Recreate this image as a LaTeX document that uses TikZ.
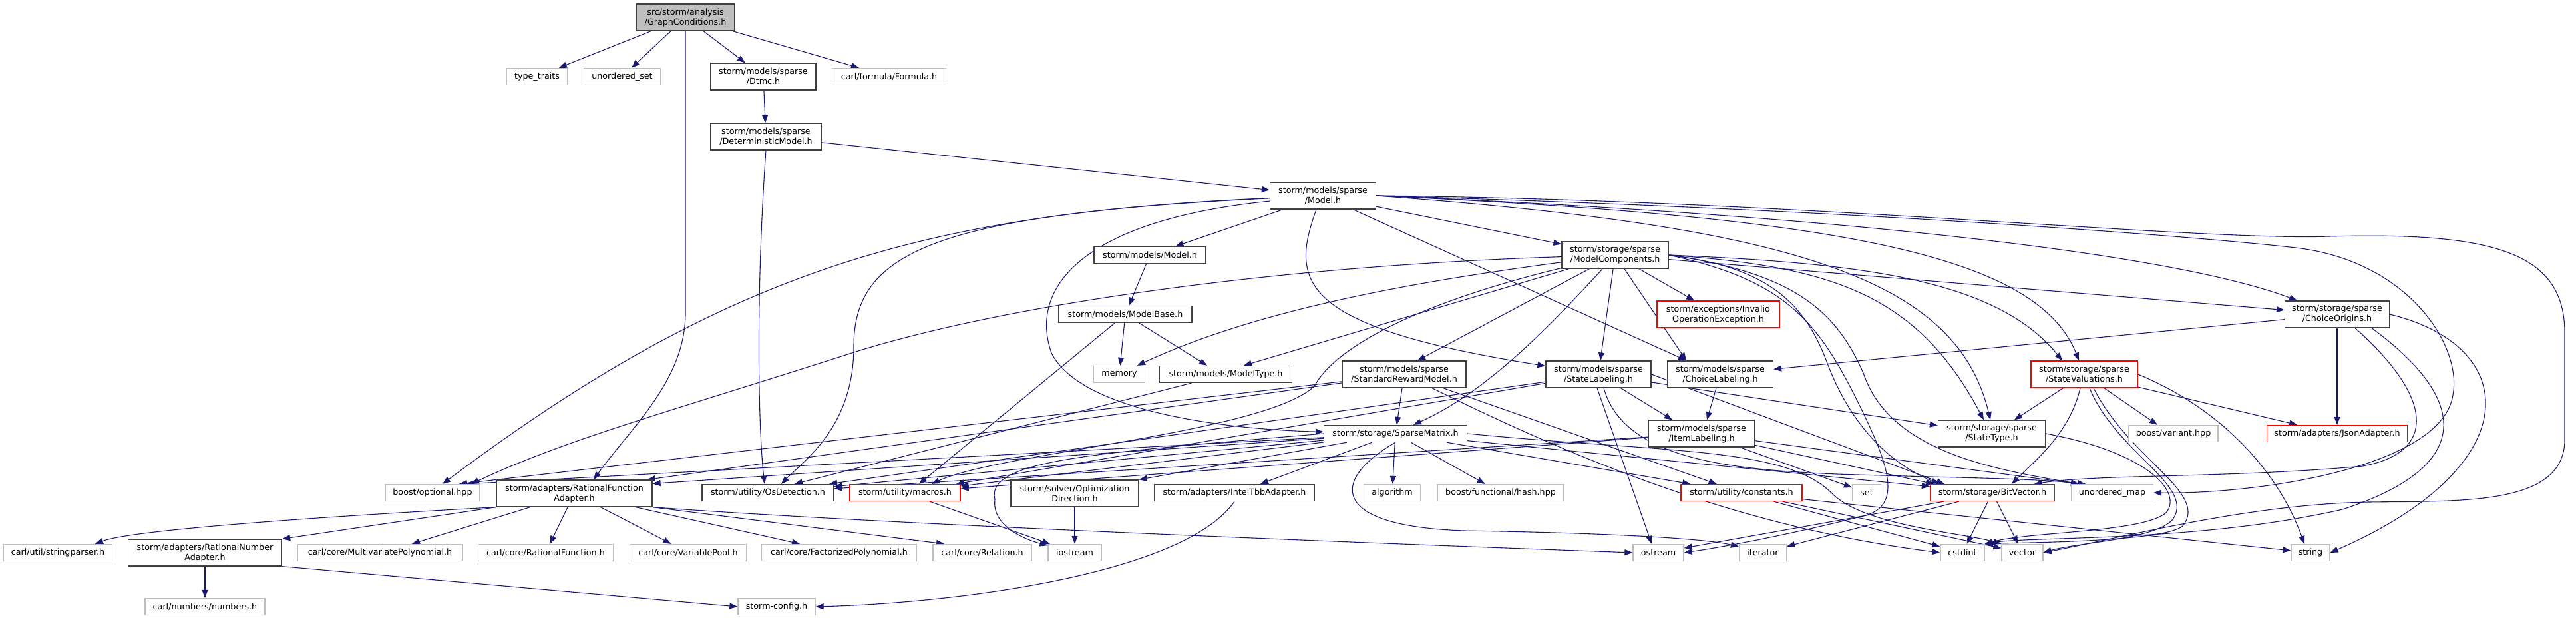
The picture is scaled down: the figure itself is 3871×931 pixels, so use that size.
\documentclass[tikz,border=0pt]{standalone}
\usepackage{fontspec}
\setmainfont{DejaVu Sans}
\usetikzlibrary{arrows.meta,backgrounds}
\definecolor{edgecol}{HTML}{191970}
\definecolor{extcol}{HTML}{BFBFBF}
\definecolor{doccol}{HTML}{404040}
\definecolor{trncol}{HTML}{FF0000}
\definecolor{rootfill}{HTML}{BFBFBF}
\tikzset{
  nbox/.style={rectangle, inner sep=0pt, fill=white, line width=1.3pt, align=center, font={\fontsize{12.7}{15}\selectfont}},
  doc/.style={nbox, draw=doccol},
  ext/.style={nbox, draw=extcol},
  trn/.style={nbox, draw=trncol},
  rootn/.style={nbox, draw=doccol, fill=rootfill},
  one/.style={minimum height=25pt},
  two/.style={minimum height=40pt},
  dep/.style={draw=edgecol, line width=1.1pt, -{Triangle[length=12pt,width=9pt]}},
}
\begin{document}
\begin{tikzpicture}[x=1pt,y=-1pt]
\useasboundingbox (0,0) rectangle (3871,931);
% nodes
\node[rootn,two,minimum width=147pt] (root) at (1030,26) {src/storm/analysis\\/GraphConditions.h};
\node[ext,one,minimum width=92pt] (tt) at (807,115) {type\_traits};
\node[ext,one,minimum width=115pt] (us) at (935,115) {unordered\_set};
\node[doc,two,minimum width=158pt] (dtmc) at (1147,115) {storm/models/sparse\\/Dtmc.h};
\node[ext,one,minimum width=171pt] (formula) at (1336,115) {carl/formula/Formula.h};
\node[doc,two,minimum width=167pt] (dm) at (1151,205) {storm/models/sparse\\/DeterministicModel.h};
\node[doc,two,minimum width=159pt] (smodel) at (1988,294) {storm/models/sparse\\/Model.h};
\node[doc,one,minimum width=168pt] (mmodel) at (1728,383) {storm/models/Model.h};
\node[doc,two,minimum width=160pt] (mc) at (2427,383) {storm/storage/sparse\\/ModelComponents.h};
\node[doc,one,minimum width=200pt] (mbase) at (1691,472) {storm/models/ModelBase.h};
\node[trn,two,minimum width=184pt] (inv) at (2582,472) {storm/exceptions/Invalid\\OperationException.h};
\node[doc,two,minimum width=157pt] (co) at (3512,472) {storm/storage/sparse\\/ChoiceOrigins.h};
\node[ext,one,minimum width=77pt] (memory) at (1682,562) {memory};
\node[doc,one,minimum width=199pt] (mtype) at (1842,562) {storm/models/ModelType.h};
\node[doc,two,minimum width=186pt] (srm) at (2110,562) {storm/models/sparse\\/StandardRewardModel.h};
\node[doc,two,minimum width=158pt] (sl) at (2402,562) {storm/models/sparse\\/StateLabeling.h};
\node[doc,two,minimum width=159pt] (cl) at (2585,562) {storm/models/sparse\\/ChoiceLabeling.h};
\node[trn,two,minimum width=160pt] (sv) at (3132,562) {storm/storage/sparse\\/StateValuations.h};
\node[doc,one,minimum width=215pt] (sm) at (2097,651) {storm/storage/SparseMatrix.h};
\node[doc,two,minimum width=159pt] (il) at (2557,651) {storm/models/sparse\\/ItemLabeling.h};
\node[doc,two,minimum width=161pt] (st) at (2993,651) {storm/storage/sparse\\/StateType.h};
\node[ext,one,minimum width=134pt] (variant) at (3266,651) {boost/variant.hpp};
\node[trn,one,minimum width=211pt] (json) at (3512,651) {storm/adapters/JsonAdapter.h};
\node[ext,one,minimum width=142pt] (bopt) at (650,740) {boost/optional.hpp};
\node[doc,two,minimum width=234pt] (rfa) at (863,741) {storm/adapters/RationalFunction\\Adapter.h};
\node[doc,one,minimum width=198pt] (osd) at (1154,740) {storm/utility/OsDetection.h};
\node[trn,one,minimum width=166pt] (macros) at (1360,740) {storm/utility/macros.h};
\node[doc,two,minimum width=192pt] (optdir) at (1615,741) {storm/solver/Optimization\\Direction.h};
\node[doc,one,minimum width=240pt] (tbb) at (1855,740) {storm/adapters/IntelTbbAdapter.h};
\node[ext,one,minimum width=85pt] (algo) at (2092,740) {algorithm};
\node[ext,one,minimum width=190pt] (hash) at (2255,740) {boost/functional/hash.hpp};
\node[trn,one,minimum width=182pt] (cnst) at (2617,740) {storm/utility/constants.h};
\node[ext,one,minimum width=43pt] (setn) at (2805,740) {set};
\node[trn,one,minimum width=187pt] (bitv) at (2994,740) {storm/storage/BitVector.h};
\node[ext,one,minimum width=123pt] (umap) at (3174,740) {unordered\_map};
\node[ext,one,minimum width=163pt] (sp) at (87,830) {carl/util/stringparser.h};
\node[doc,two,minimum width=231pt] (rna) at (308,830) {storm/adapters/RationalNumber\\Adapter.h};
\node[ext,one,minimum width=248pt] (mvp) at (571,830) {carl/core/MultivariatePolynomial.h};
\node[ext,one,minimum width=203pt] (rf) at (820,830) {carl/core/RationalFunction.h};
\node[ext,one,minimum width=175pt] (vp) at (1034,830) {carl/core/VariablePool.h};
\node[ext,one,minimum width=233pt] (fp) at (1261,830) {carl/core/FactorizedPolynomial.h};
\node[ext,one,minimum width=148pt] (rel) at (1476,830) {carl/core/Relation.h};
\node[ext,one,minimum width=80pt] (iostr) at (1615,830) {iostream};
\node[ext,one,minimum width=76pt] (ostr) at (2492,830) {ostream};
\node[ext,one,minimum width=71pt] (iter) at (2649,830) {iterator};
\node[ext,one,minimum width=66pt] (cstd) at (2949,830) {cstdint};
\node[ext,one,minimum width=62pt] (vec) at (3039,830) {vector};
\node[ext,one,minimum width=58pt] (str) at (3472,830) {string};
\node[ext,one,minimum width=180pt] (numbers) at (308,911) {carl/numbers/numbers.h};
\node[ext,one,minimum width=116pt] (config) at (1167,911) {storm-config.h};
% edges
\begin{pgfonlayer}{background}
\fill[white] (0,0) rectangle (3871,931);
\draw[dep] (root) -- (tt);
\draw[dep] (root) -- (us);
\draw[dep] (root) -- (dtmc);
\draw[dep] (root) -- (formula);
\draw[dep] (root.south) -- (1030,470) .. controls (1030,570) and (950,640) .. ([xshift=29pt]rfa.north);
\draw[dep] (dtmc) -- (dm);
\draw[dep] (dm) -- (smodel);
\draw[dep] (dm.south) .. controls (1135,450) and (1140,650) .. ([xshift=-5pt]osd.north);
% sparse Model.h
\draw[dep] (smodel) .. controls (1400,320) and (1100,400) .. ([xshift=15pt]bopt.north);
\draw[dep] (smodel) .. controls (1400,322) and (1283,380) .. (1283,520) .. controls (1283,640) and (1210,690) .. ([xshift=20pt]osd.north);
\draw[dep] (smodel) .. controls (1630,330) and (1545,430) .. (1580,530) .. controls (1625,620) and (1850,645) .. (sm);
\draw[dep] (smodel) -- (mmodel);
\draw[dep] ([xshift=-10pt]smodel.south) .. controls (1940,420) and (1945,490) .. (sl);
\draw[dep] (smodel) -- ([xshift=-51pt]cl.north);
\draw[dep] (smodel) -- (mc);
\draw[dep] (smodel.east) .. controls (2700,300) and (3300,362) .. (3500,355) .. controls (3750,348) and (3854,380) .. (3854,500) -- (3854,660) .. controls (3854,760) and (3700,752) .. (3560,754) .. controls (3380,757) and (3200,805) .. (vec.east);
\draw[dep] (smodel.east) .. controls (2800,315) and (3300,355) .. (3450,372) .. controls (3620,392) and (3700,520) .. (3686,593) .. controls (3670,700) and (3400,742) .. (umap.east);
\draw[dep] (smodel.east) .. controls (2700,320) and (3250,375) .. ([xshift=-60pt]co.north);
\draw[dep] (smodel.east) .. controls (2750,325) and (3060,380) .. ([xshift=-8pt]sv.north);
\draw[dep] (smodel.east) .. controls (2700,340) and (2940,420) .. ([xshift=-2pt]st.north);
% models/Model.h, ModelBase
\draw[dep] (mmodel) -- (mbase);
\draw[dep] (mbase) -- (memory);
\draw[dep] (mbase) -- ([xshift=-28pt]mtype.north);
\draw[dep] (mbase) -- ([xshift=21pt]macros.north);
\draw[dep] (mtype) -- ([xshift=40pt]osd.north);
% ModelComponents
\draw[dep] (mc) -- (inv);
\draw[dep] (mc) .. controls (2150,420) and (1900,460) .. ([xshift=27pt]memory.north);
\draw[dep] (mc) -- ([xshift=27pt]mtype.north);
\draw[dep] (mc) .. controls (1900,400) and (1500,460) .. (1280,530) .. controls (1000,620) and (850,660) .. ([xshift=58pt]bopt.north);
\draw[dep] (mc) .. controls (2150,450) and (2010,515) .. (1975,580) .. controls (1900,650) and (1500,680) .. ([xshift=40pt]macros.north);
\draw[dep] (mc) -- ([xshift=20pt]srm.north);
\draw[dep] (mc) .. controls (2320,500) and (2230,590) .. ([xshift=27pt]sm.north);
\draw[dep] (mc) -- (sl);
\draw[dep] (mc) -- ([xshift=-51pt]cl.north);
\draw[dep] (mc) -- (co);
\draw[dep] (mc.east) .. controls (2650,400) and (2710,450) .. (2745,543) .. controls (2785,650) and (2850,700) .. ([xshift=-80pt]bitv.north);
\draw[dep] (mc.east) .. controls (2700,410) and (2760,470) .. (2800,560) .. controls (2840,680) and (3000,705) .. ([xshift=-50pt]umap.north);
\draw[dep] (mc.east) .. controls (2750,400) and (2880,440) .. ([xshift=-12pt]st.north);
\draw[dep] (mc.east) .. controls (2800,395) and (3000,420) .. ([xshift=-33pt]sv.north);
\draw[dep] (mc.east) .. controls (2680,420) and (2730,480) .. (2790,600) .. controls (2840,700) and (2860,760) .. (2800,775) .. controls (2700,800) and (2600,820) .. (ostr.east);
% ChoiceOrigins
\draw[dep] (co) -- (cl);
\draw[dep] (co) -- (json);
\draw[dep] ([xshift=27pt]co.south) .. controls (3660,600) and (3660,680) .. (3550,700) .. controls (3350,718) and (3150,712) .. ([xshift=63pt]bitv.north);
\draw[dep] ([xshift=52pt]co.south) .. controls (3710,600) and (3720,700) .. (3520,765) .. controls (3300,815) and (3050,805) .. (cstd.north east);
\draw[dep] (co.east) .. controls (3790,520) and (3800,700) .. (str.east);
% StateValuations
\draw[dep] (sv) -- ([xshift=34pt]st.north);
\draw[dep] (sv) -- ([xshift=-24pt]variant.north);
\draw[dep] (sv) -- ([xshift=-60pt]json.north);
\draw[dep] ([xshift=-6pt]sv.south) .. controls (3110,650) and (3060,690) .. ([xshift=29pt]bitv.north);
\draw[dep] (sv.east) .. controls (3330,610) and (3420,700) .. ([xshift=-9pt]str.north);
\draw[dep] ([xshift=8pt]sv.south) .. controls (3180,680) and (3300,730) .. (3265,780) .. controls (3240,810) and (3120,815) .. (vec.east);
\draw[dep] ([xshift=14pt]sv.south) .. controls (3200,690) and (3320,740) .. (3280,790) .. controls (3250,815) and (3020,815) .. (cstd.north east);
\draw[dep] (st.east) .. controls (3230,680) and (3280,740) .. (3255,770) .. controls (3220,800) and (3050,798) .. (cstd.north east);
% StandardRewardModel
\draw[dep] (srm) -- (sm);
\draw[dep] (srm) -- ([xshift=40pt]bopt.north);
\draw[dep] (srm) -- ([xshift=-8pt]rfa.north east);
\draw[dep] (srm) -- (cnst);
\draw[dep] (srm) .. controls (2350,680) and (2600,790) .. (cstd.west);
% StateLabeling, ChoiceLabeling, ItemLabeling
\draw[dep] (sl) -- ([xshift=-44pt]il.north);
\draw[dep] (sl) -- (st);
\draw[dep] (sl.east) -- ([xshift=-72pt]bitv.north);
\draw[dep] ([xshift=-2pt]sl.south) -- ([xshift=-10pt]ostr.north);
\draw[dep] ([xshift=8pt]sl.south) .. controls (2440,690) and (2600,705) .. (2760,712) .. controls (2950,718) and (3050,718) .. ([xshift=-40pt]umap.north);
\draw[dep] (sl) -- (macros);
\draw[dep] (sl) -- (osd);
\draw[dep] (cl) -- ([xshift=8pt]il.north);
\draw[dep] (il) -- (setn);
\draw[dep] (il) -- ([xshift=-88pt]bitv.north);
\draw[dep] (il) -- ([xshift=-50pt]umap.north);
\draw[dep] (il) -- (macros);
\draw[dep] (il) -- (osd);
% SparseMatrix
\draw[dep] (sm) -- (algo);
\draw[dep] (sm) -- (hash);
\draw[dep] (sm) -- (cnst);
\draw[dep] (sm) -- (bitv);
\draw[dep] (sm) -- (macros);
\draw[dep] (sm) -- (osd);
\draw[dep] (sm) -- ([xshift=50pt]bopt.north);
\draw[dep] (sm) -- ([yshift=-6pt]rfa.north east);
\draw[dep] (sm) -- (optdir.north east);
\draw[dep] (sm) -- ([xshift=39pt]tbb.north);
\draw[dep] (sm.west) .. controls (1650,680) and (1480,690) .. (1495,750) .. controls (1490,790) and (1540,810) .. (iostr);
\draw[dep] (sm.south) .. controls (2000,720) and (1995,790) .. (2200,797) .. controls (2400,800) and (2560,808) .. (iter);
\draw[dep] (sm.east) .. controls (2500,680) and (2680,670) .. (2752,740) .. controls (2800,790) and (2950,800) .. (vec.north west);
% RationalFunctionAdapter and others
\draw[dep] (rfa.south west) .. controls (500,775) and (200,795) .. ([xshift=56pt]sp.north);
\draw[dep] (rfa.south west) -- (rna.north east);
\draw[dep] (rfa) -- ([xshift=48pt]mvp.north);
\draw[dep] (rfa) -- (rf);
\draw[dep] (rfa) -- (vp);
\draw[dep] (rfa) -- ([xshift=-59pt]fp.north);
\draw[dep] (rfa.south east) -- ([xshift=-57pt]rel.north);
\draw[dep] (rfa.south east) .. controls (1300,785) and (1900,810) .. (ostr.west);
\draw[dep] (rna) -- (numbers);
\draw[dep] (rna.south east) -- (config.west);
\draw[dep] (tbb.south) .. controls (1780,860) and (1450,905) .. (config.east);
\draw[dep] (optdir) -- (iostr);
\draw[dep] (macros) -- (iostr);
% constants, BitVector
\draw[dep] (cnst) -- (cstd);
\draw[dep] (cnst) -- (vec);
\draw[dep] (cnst) -- (str);
\draw[dep] (bitv) -- (iter);
\draw[dep] (bitv) -- (ostr);
\draw[dep] (bitv) -- (cstd);
\draw[dep] (bitv) -- (vec);
\end{pgfonlayer}
\end{tikzpicture}
\end{document}
